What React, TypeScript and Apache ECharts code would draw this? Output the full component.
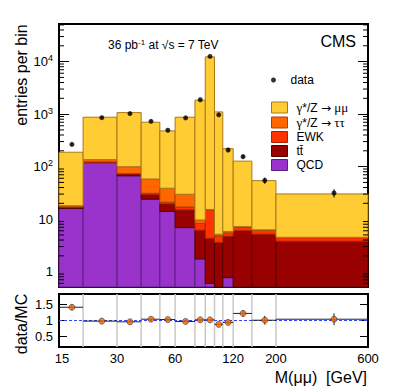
import React, { useEffect, useRef } from 'react';
import * as echarts from 'echarts';

// Bin edges (GeV) and measured / simulated entries per bin
const binEdges = [15, 20, 30, 40, 50, 60, 76, 86, 96, 106, 120, 150, 200, 600];
const dataCounts = [265, 856, 1025, 729, 493, 847, 1878, 12546, 970, 207, 155, 54.5, 31.4];
const qcd = [16, 119, 67, 24, 14, 6.9, 1.75, 0.6, 0.3, 0.77, 0.3, 0.2, 0.1];
const ttbar = [0.9, 3, 5.6, 5.5, 5.5, 8.1, 4.4, 3.7, 3.3, 3.95, 5.7, 4.95, 3.7];
const ewk = [0.3, 1, 1, 1.6, 1.5, 2, 2.2, 10.7, 1.2, 0.75, 1.0, 1.0, 0.65];
const dyTauTau = [0.8, 13, 26, 27, 17.8, 12.8, 1.3, 0.3, 0.35, 0.35, 0.2, 0.1, 0.05];
const dyMuMu = [170, 737, 968, 643, 440, 843, 1831, 12285, 1097, 214, 120, 47.8, 25.7];
const xTickLabels = [15, 30, 60, 120, 200, 600];
const ratioTicks = [0.5, 1, 1.5];

const FONT = '"Liberation Sans", Arial, Helvetica, sans-serif';
const SERIF = '"Liberation Serif", "Times New Roman", serif';
const Y_MIN = 0.51;
const Y_MAX = 52000;
const R_MIN = 0.18;
const R_MAX = 1.82;

const comps = [
  { name: 'QCD', values: qcd, color: '#9933cc', border: '#5c1e7e' },
  { name: 'tt\u0304', values: ttbar, color: '#990000', border: '#550000' },
  { name: 'EWK', values: ewk, color: '#ff3300', border: '#a82200' },
  { name: 'γ*/Z → ττ', values: dyTauTau, color: '#ff6600', border: '#a84400' },
  { name: 'γ*/Z → μμ', values: dyMuMu, color: '#ffcc33', border: '#a8781a' },
];

export default function App() {
  const ref = useRef<HTMLDivElement>(null);

  useEffect(() => {
    const chart = echarts.init(ref.current!, null, { renderer: 'svg' });
    const nBins = binEdges.length - 1;
    const cum: number[] = new Array(nBins).fill(0);

    const stackSeries = comps.map((c) => {
      const rows = c.values.map((v, i) => {
        const lo = cum[i] || Y_MIN;
        cum[i] += v;
        return [binEdges[i], binEdges[i + 1], lo, cum[i]];
      });
      return {
        type: 'custom',
        name: c.name,
        xAxisIndex: 0,
        yAxisIndex: 0,
        silent: true,
        encode: { x: [0, 1], y: [2, 3] },
        itemStyle: { color: c.color, borderColor: c.border, borderWidth: 1 },
        data: rows,
        renderItem: (params: any, api: any) => {
          const lo = api.value(0);
          const hi = api.value(1);
          const b = Math.max(api.value(2), Y_MIN);
          const t = api.value(3);
          if (t <= Y_MIN) return null;
          const p0 = api.coord([lo, b]);
          const p1 = api.coord([hi, t]);
          return {
            type: 'rect',
            shape: { x: p0[0], y: p1[1], width: p1[0] - p0[0], height: p0[1] - p1[1] },
            style: { fill: c.color, stroke: c.border, lineWidth: 1 },
          };
        },
      };
    });

    const mcTotal = cum.slice();
    const centers = dataCounts.map((_, i) => (binEdges[i] + binEdges[i + 1]) / 2);
    const ratios = dataCounts.map((n, i) => n / mcTotal[i]);

    const minorVals: number[] = [];
    for (let e = -1; e <= 4; e++) {
      for (let k = 2; k <= 9; k++) {
        const v = k * Math.pow(10, e);
        if (v > Y_MIN && v < Y_MAX) minorVals.push(v);
      }
    }

    const xLo = binEdges[0];
    const xHi = binEdges[binEdges.length - 1];

    const legendFormatter = (name: string) =>
      name
        .replace('γ', '{g|γ}')
        .replace('→', '{a|→}')
        .replace('μμ', '{g|μμ}')
        .replace('ττ', '{g|ττ}');
    const legendRich = {
      g: { fontSize: 13, fontFamily: SERIF, color: '#000' },
      a: { fontSize: 12, fontFamily: '"DejaVu Sans", sans-serif', color: '#000' },
    };

    const option: any = {
      animation: false,
      backgroundColor: '#fff',
      textStyle: { fontFamily: FONT },
      grid: [
        { left: 59, top: 24, width: 309, height: 263, show: true, borderColor: '#000', borderWidth: 2, backgroundColor: 'transparent' },
        { left: 59, top: 294, width: 309, height: 53, show: true, borderColor: '#000', borderWidth: 2, backgroundColor: 'transparent' },
      ],
      xAxis: [
        { type: 'log', gridIndex: 0, min: xLo, max: xHi, show: false },
        { type: 'log', gridIndex: 1, min: xLo, max: xHi, show: false },
      ],
      yAxis: [
        {
          type: 'log', gridIndex: 0, position: 'left', min: Y_MIN, max: Y_MAX,
          splitLine: { show: false }, axisLine: { show: false },
          axisTick: { inside: true, length: 10, lineStyle: { color: '#000', width: 1 } },
          axisLabel: {
            margin: 6, color: '#000', fontSize: 13, fontFamily: FONT,
            formatter: (v: number) => {
              const e = Math.round(Math.log10(v));
              if (Math.abs(v / Math.pow(10, e) - 1) > 1e-6) return '';
              if (e === 0) return '1';
              if (e === 1) return '10';
              return '{b|10}{s|' + e + '}';
            },
            rich: {
              b: { fontSize: 13, fontFamily: FONT, color: '#000' },
              s: { fontSize: 9, fontFamily: FONT, color: '#000', padding: [0, 0, 7, 0] },
            },
          },
        },
        {
          type: 'log', gridIndex: 0, position: 'right', min: Y_MIN, max: Y_MAX,
          splitLine: { show: false }, axisLine: { show: false }, axisLabel: { show: false },
          axisTick: { inside: true, length: 10, lineStyle: { color: '#000', width: 1 } },
        },
        {
          type: 'value', gridIndex: 1, position: 'left', min: R_MIN, max: R_MAX,
          splitLine: { show: false }, axisLine: { show: false },
          axisTick: { inside: true, length: 8, customValues: ratioTicks, lineStyle: { color: '#000' } },
          axisLabel: { customValues: ratioTicks, margin: 6, fontSize: 13, fontFamily: FONT, color: '#000', formatter: (v: number) => String(v) },
        },
        {
          type: 'value', gridIndex: 1, position: 'right', min: R_MIN, max: R_MAX,
          splitLine: { show: false }, axisLine: { show: false }, axisLabel: { show: false },
          axisTick: { inside: true, length: 8, customValues: ratioTicks, lineStyle: { color: '#000' } },
        },
      ],
      legend: [
        {
          selectedMode: false, left: 266, top: 69, itemWidth: 16, itemHeight: 5,
          textStyle: { fontSize: 12, fontFamily: FONT, color: '#000', padding: [0, 0, 0, 4] },
          data: [{ name: 'data', icon: 'circle', itemStyle: { color: '#000' } }],
        },
        {
          selectedMode: false, left: 266, top: 96, orient: 'vertical', itemWidth: 16, itemHeight: 11, itemGap: 2,
          formatter: legendFormatter,
          textStyle: { fontSize: 12, fontFamily: FONT, color: '#000', padding: [0, 0, 0, 4], rich: legendRich },
          data: comps.slice().reverse().map((c) => ({
            name: c.name, icon: 'rect', itemStyle: { color: c.color, borderColor: c.border, borderWidth: 1 },
          })),
        },
      ],
      graphic: [
        { type: 'text', x: 356, y: 41, style: { text: 'CMS', fontSize: 16, fontFamily: FONT, fill: '#000', align: 'right', verticalAlign: 'middle' } },
        {
          type: 'text', x: 108, y: 45,
          style: {
            text: '{n|36 pb}{s|-1}{n| at √s = 7 TeV}', fill: '#000', align: 'left', verticalAlign: 'middle',
            rich: { n: { fontSize: 12, fontFamily: FONT, fill: '#000' }, s: { fontSize: 8, fontFamily: FONT, fill: '#000', padding: [0, 0, 6, 0] } },
          },
        },
        { type: 'text', x: 21, y: 75, rotation: Math.PI / 2, style: { text: 'entries per bin', fontSize: 16, fontFamily: FONT, fill: '#000', align: 'center', verticalAlign: 'middle' } },
        { type: 'text', x: 21, y: 324, rotation: Math.PI / 2, style: { text: 'data/MC', fontSize: 16, fontFamily: FONT, fill: '#000', align: 'center', verticalAlign: 'middle' } },
        { type: 'text', x: 367, y: 377, style: { text: 'M(μμ)  [GeV]', fontSize: 16, fontFamily: FONT, fill: '#000', align: 'right', verticalAlign: 'middle' } },
      ],
      series: [
        ...stackSeries,
        {
          type: 'custom', name: 'minor ticks', xAxisIndex: 0, yAxisIndex: 0, silent: true,
          encode: { x: 0, y: 1 },
          data: minorVals.map((v) => [xLo, v]),
          renderItem: (params: any, api: any) => {
            const v = api.value(1);
            const pl = api.coord([xLo, v]);
            const pr = api.coord([xHi, v]);
            return {
              type: 'group',
              children: [
                { type: 'line', shape: { x1: pl[0], y1: pl[1], x2: pl[0] + 5, y2: pl[1] }, style: { stroke: '#000', lineWidth: 1 } },
                { type: 'line', shape: { x1: pr[0] - 5, y1: pr[1], x2: pr[0], y2: pr[1] }, style: { stroke: '#000', lineWidth: 1 } },
              ],
            };
          },
        },
        {
          type: 'custom', name: 'data errors', xAxisIndex: 0, yAxisIndex: 0, silent: true,
          encode: { x: 0, y: 1 },
          data: dataCounts.map((n, i) => [centers[i], n]),
          renderItem: (params: any, api: any) => {
            const x = api.value(0);
            const n = api.value(1);
            const s = Math.sqrt(n);
            const pt = api.coord([x, n + s]);
            const pb = api.coord([x, Math.max(n - s, Y_MIN)]);
            return { type: 'line', shape: { x1: pt[0], y1: pt[1], x2: pb[0], y2: pb[1] }, style: { stroke: '#000', lineWidth: 1 } };
          },
        },
        {
          type: 'scatter', name: 'data', xAxisIndex: 0, yAxisIndex: 0, silent: true,
          symbol: 'circle', symbolSize: 5, itemStyle: { color: '#000' },
          data: dataCounts.map((n, i) => [centers[i], n]),
        },
        {
          type: 'custom', name: 'bin edges', xAxisIndex: 1, yAxisIndex: 2, silent: true,
          encode: { x: 0, y: 1 },
          data: binEdges.slice(1, -1).map((e) => [e, 1]),
          renderItem: (params: any, api: any) => {
            const e = api.value(0);
            const p0 = api.coord([e, R_MIN]);
            const p1 = api.coord([e, R_MAX]);
            return { type: 'line', shape: { x1: p0[0], y1: p0[1], x2: p1[0], y2: p1[1] }, style: { stroke: '#c8c8c8', lineWidth: 1.5 } };
          },
        },
        {
          type: 'custom', name: 'unity', xAxisIndex: 1, yAxisIndex: 2, silent: true,
          encode: { x: 0, y: 1 },
          data: [[xLo, 1]],
          renderItem: (params: any, api: any) => {
            const p0 = api.coord([xLo, 1]);
            const p1 = api.coord([xHi, 1]);
            return { type: 'line', shape: { x1: p0[0], y1: p0[1], x2: p1[0], y2: p1[1] }, style: { stroke: '#3344ff', lineWidth: 1, lineDash: [3, 2] } };
          },
        },
        {
          type: 'custom', name: 'ratio errors', xAxisIndex: 1, yAxisIndex: 2, silent: true,
          encode: { x: 2, y: 3 },
          data: ratios.map((r, i) => [binEdges[i], binEdges[i + 1], centers[i], r, r / Math.sqrt(dataCounts[i])]),
          renderItem: (params: any, api: any) => {
            const lo = api.value(0), hi = api.value(1), xc = api.value(2), r = api.value(3), er = api.value(4);
            const a = api.coord([lo, r]);
            const b = api.coord([hi, r]);
            const t = api.coord([xc, r + er]);
            const d = api.coord([xc, r - er]);
            return {
              type: 'group',
              children: [
                { type: 'line', shape: { x1: a[0], y1: a[1], x2: b[0], y2: b[1] }, style: { stroke: '#222', lineWidth: 1 } },
                { type: 'line', shape: { x1: t[0], y1: t[1], x2: d[0], y2: d[1] }, style: { stroke: '#222', lineWidth: 1 } },
              ],
            };
          },
        },
        {
          type: 'scatter', name: 'ratio', xAxisIndex: 1, yAxisIndex: 2, silent: true,
          symbol: 'circle', symbolSize: 6,
          itemStyle: { color: '#ff6600', borderColor: '#333', borderWidth: 0.8 },
          data: ratios.map((r, i) => [centers[i], r]),
        },
        {
          type: 'custom', name: 'x labels', xAxisIndex: 1, yAxisIndex: 2, silent: true,
          encode: { x: 0, y: 1 },
          data: xTickLabels.map((v) => [v, R_MIN]),
          renderItem: (params: any, api: any) => {
            const v = api.value(0);
            const p = api.coord([v, R_MIN]);
            return {
              type: 'text', x: p[0] + (v === xLo ? 3 : 0), y: p[1] + 11,
              style: { text: String(v), fontSize: 13, fontFamily: FONT, fill: '#000', align: 'center', verticalAlign: 'middle' },
            };
          },
        },
      ],
    };

    chart.setOption(option);
    return () => chart.dispose();
  }, []);

  return <div ref={ref} style={{ position: 'absolute', left: 0, top: 0, width: 405, height: 390 }} />;
}
